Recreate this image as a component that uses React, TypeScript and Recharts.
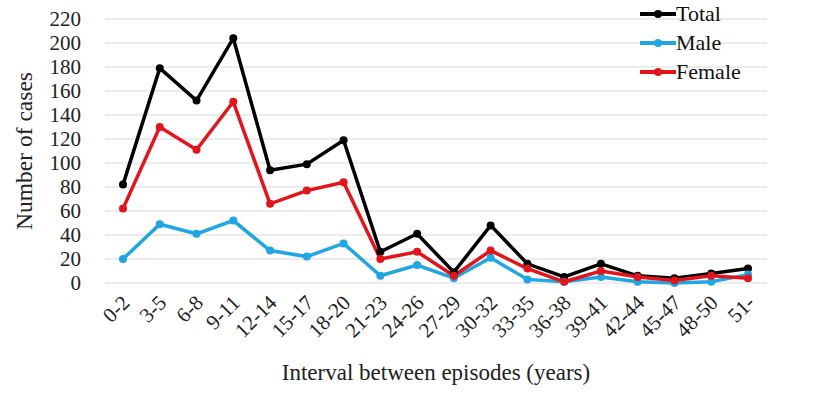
import React from "react";
import { LineChart, Line, XAxis, YAxis, CartesianGrid, Legend, Label } from "recharts";

const intervals = ["0-2", "3-5", "6-8", "9-11", "12-14", "15-17", "18-20", "21-23", "24-26", "27-29", "30-32", "33-35", "36-38", "39-41", "42-44", "45-47", "48-50", "51-"];
const total = [82, 179, 152, 204, 94, 99, 119, 26, 41, 9, 48, 16, 5, 16, 6, 4, 8, 12];
const male = [20, 49, 41, 52, 27, 22, 33, 6, 15, 4, 21, 3, 1, 5, 1, 0, 1, 7];
const female = [62, 130, 111, 151, 66, 77, 84, 20, 26, 6, 27, 12, 1, 10, 5, 2, 6, 4];
const yTicks = [0, 20, 40, 60, 80, 100, 120, 140, 160, 180, 200, 220];
const legendOrder = ["Total", "Male", "Female"];

const data = intervals.map((name, i) => ({
  name,
  Total: total[i],
  Male: male[i],
  Female: female[i],
}));

const FONT = "'Times New Roman', 'Liberation Serif', 'DejaVu Serif', serif";

const XTick = (props: any) => {
  const { x, y, payload } = props;
  const ax = x + 8;
  const ay = y + 13;
  return (
    <text x={ax} y={ay} textAnchor="end" style={{ fontFamily: FONT, fontSize: 21 }} fill="#222" transform={`rotate(-45, ${ax}, ${ay})`}>
      {payload.value}
    </text>
  );
};

const YTick = (props: any) => {
  const { x, y, payload } = props;
  return (
    <text x={x} y={y + 7} textAnchor="end" style={{ fontFamily: FONT, fontSize: 21 }} fill="#222">
      {payload.value}
    </text>
  );
};

const LegendContent = (props: any) => {
  const payload = [...(props.payload || [])].sort(
    (a: any, b: any) => legendOrder.indexOf(a.value) - legendOrder.indexOf(b.value)
  );
  return (
    <div style={{ width: 180 }}>
      {payload.map((p: any) => (
        <div key={p.value} style={{ display: "flex", alignItems: "center", height: 29 }}>
          <svg width={36} height={12} style={{ display: "block" }}>
            <line x1={0} y1={6} x2={36} y2={6} stroke={p.color} strokeWidth={4} />
            <circle cx={18} cy={6} r={4} fill={p.color} />
          </svg>
          <span style={{ fontFamily: FONT, fontSize: 22, color: "#111", lineHeight: "22px", whiteSpace: "nowrap" }}>
            {p.value}
          </span>
        </div>
      ))}
    </div>
  );
};

export default function App() {
  return (
    <div style={{ position: "absolute", left: 0, top: 0, background: "#fff", fontFamily: FONT }}>
      <LineChart
        width={832}
        height={397}
        data={data}
        margin={{ top: 19, right: 64, left: 0, bottom: 0 }}
      >
        <CartesianGrid vertical={false} stroke="#e6e6e6" strokeWidth={1.5} />
        <XAxis
          dataKey="name"
          axisLine={false}
          tickLine={false}
          interval={0}
          height={114}
          padding={{ left: 18, right: 19 }}
          tick={<XTick />}
        >
          <Label
            value="Interval between episodes (years)"
            position="insideBottom"
            offset={17}
            style={{ fontFamily: FONT, fontSize: 23, fill: "#222" }}
          />
        </XAxis>
        <YAxis
          width={105}
          domain={[0, 220]}
          ticks={yTicks}
          axisLine={false}
          tickLine={false}
          tickMargin={18}
          interval={0}
          tick={<YTick />}
        >
          <Label
            value="Number of cases"
            angle={-90}
            position="insideLeft"
            offset={24}
            style={{ fontFamily: FONT, fontSize: 23.5, fill: "#222", textAnchor: "middle" }}
          />
        </YAxis>
        <Legend
          layout="vertical"
          verticalAlign="top"
          align="right"
          content={<LegendContent />}
          wrapperStyle={{ top: -1, left: 640, width: 1, height: 1, overflow: "visible" }}
        />
        <Line dataKey="Total" stroke="#000000" strokeWidth={3.5} dot={{ r: 4, fill: "#000000", strokeWidth: 0 }} isAnimationActive={false} />
        <Line dataKey="Male" stroke="#20a6e2" strokeWidth={3.5} dot={{ r: 4, fill: "#20a6e2", strokeWidth: 0 }} isAnimationActive={false} />
        <Line dataKey="Female" stroke="#e3141b" strokeWidth={3.5} dot={{ r: 4, fill: "#e3141b", strokeWidth: 0 }} isAnimationActive={false} />
      </LineChart>
    </div>
  );
}
